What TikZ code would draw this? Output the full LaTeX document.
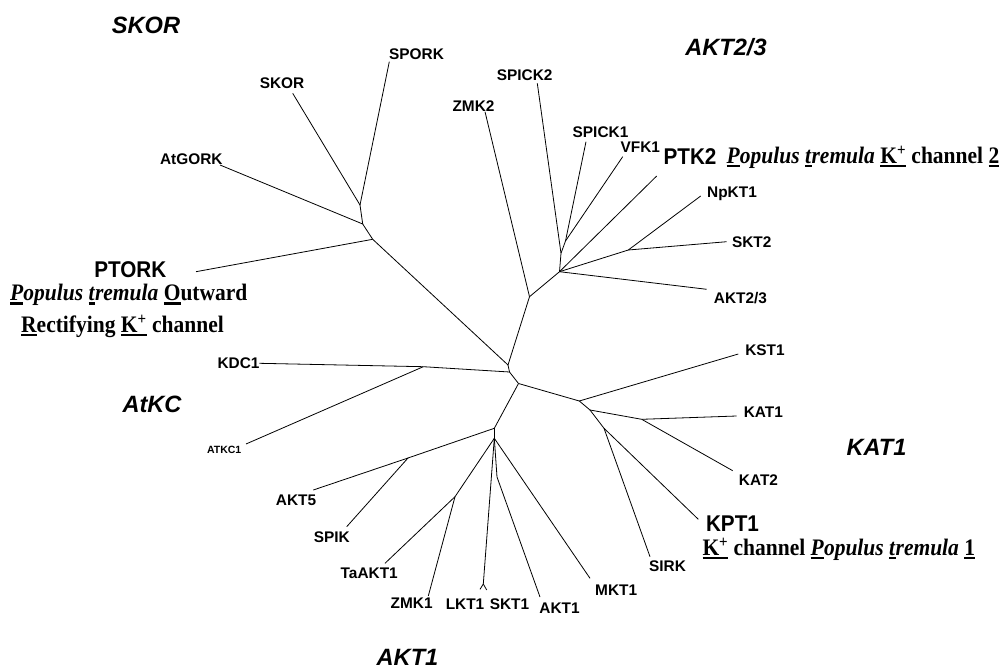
\documentclass[tikz,border=0pt]{standalone}
\usepackage{fontspec}
\setmainfont{Liberation Serif}
\newfontfamily\arialf{Liberation Sans}
\newcommand\ulx[1]{\setbox0\hbox{#1}\rlap{\rule[-3.6pt]{\wd0}{2.2pt}}\box0\relax}
\newcommand\vst[1]{\scalebox{1}[1.1]{#1}}
\tikzset{
 br/.style={line width=0.8pt, line join=round},
 lab/.style={font=\arialf\bfseries\fontsize{15.4}{18}\selectfont, inner sep=0pt, anchor=base},
 biglab/.style={font=\arialf\bfseries\fontsize{20.7}{24}\selectfont, inner sep=0pt, anchor=base},
 grp/.style={font=\arialf\bfseries\itshape\fontsize{23.6}{28}\selectfont, inner sep=0pt, anchor=base},
 desc/.style={font=\bfseries\fontsize{21.5}{26}\selectfont, inner sep=0pt, anchor=base},
 smalllab/.style={font=\arialf\bfseries\fontsize{10.5}{12}\selectfont, inner sep=0pt, anchor=base},
}
\begin{document}
\begin{tikzpicture}[x=1pt,y=-1pt]
\fill[white] (0,0) rectangle (999,669);
\useasboundingbox (0,0) rectangle (999,669);
% internal nodes
\coordinate (R1) at (508,365);
\coordinate (R2) at (509.5,372);
\coordinate (R3) at (518.5,383.5);
\coordinate (SK1) at (372.7,239.3);
\coordinate (SK2) at (362.7,224);
\coordinate (SK3) at (360,205);
\coordinate (A1) at (529.5,296.7);
\coordinate (A2) at (559.5,271.7);
\coordinate (A3) at (561,253.3);
\coordinate (A4) at (565.5,241);
\coordinate (A5) at (628.3,250);
\coordinate (C1) at (423.3,366.7);
\coordinate (K1) at (579.3,401);
\coordinate (K2) at (590,410);
\coordinate (K3) at (604,428.3);
\coordinate (K4) at (641.7,419.3);
\coordinate (N1) at (494.3,428.3);
\coordinate (N2) at (494.3,438.3);
\coordinate (N3) at (408,458);
\coordinate (N4) at (455,496.7);
\coordinate (N5) at (483.3,584);
\coordinate (N6) at (497,477);
% tips
\coordinate (tPTORK) at (196,271.7);
\coordinate (tAtGORK) at (220,165);
\coordinate (tSKOR) at (292.7,93.3);
\coordinate (tSPORK) at (389.3,61.7);
\coordinate (tZMK2) at (485,111.7);
\coordinate (tSPICK2) at (537.3,83.3);
\coordinate (tSPICK1) at (586,141.7);
\coordinate (tVFK1) at (622.7,156.7);
\coordinate (tPTK2) at (656.7,176);
\coordinate (tNpKT1) at (700.7,196);
\coordinate (tSKT2) at (726.7,241.7);
\coordinate (tAKT23) at (706.7,289.3);
\coordinate (tKDC1) at (259.3,363.3);
\coordinate (tATKC1) at (246,444);
\coordinate (tKST1) at (738.3,354);
\coordinate (tKAT1) at (736.7,416);
\coordinate (tKAT2) at (732.7,470.7);
\coordinate (tKPT1) at (698.3,519.3);
\coordinate (tSIRK) at (650,556.7);
\coordinate (tAKT5) at (313.3,490);
\coordinate (tSPIK) at (346.7,526.7);
\coordinate (tTaAKT1) at (385,563.3);
\coordinate (tZMK1) at (428.3,596);
\coordinate (tLKT1) at (480,589.3);
\coordinate (tSKT1) at (486.7,590);
\coordinate (tAKT1) at (540,597);
\coordinate (tMKT1) at (590,578.3);
% branches
\draw[br] (R1) -- (R2);
\draw[br] (R2) -- (R3);
\draw[br] (R1) -- (SK1);
\draw[br] (R1) -- (A1);
\draw[br] (R2) -- (C1);
\draw[br] (R3) -- (K1);
\draw[br] (R3) -- (N1);
\draw[br] (SK1) -- (SK2);
\draw[br] (SK2) -- (SK3);
\draw[br] (SK1) -- (tPTORK);
\draw[br] (SK2) -- (tAtGORK);
\draw[br] (SK3) -- (tSKOR);
\draw[br] (SK3) -- (tSPORK);
\draw[br] (A1) -- (A2);
\draw[br] (A1) -- (tZMK2);
\draw[br] (A2) -- (A3);
\draw[br] (A3) -- (A4);
\draw[br] (A3) -- (tSPICK2);
\draw[br] (A4) -- (tSPICK1);
\draw[br] (A4) -- (tVFK1);
\draw[br] (A2) -- (tPTK2);
\draw[br] (A2) -- (A5);
\draw[br] (A5) -- (tNpKT1);
\draw[br] (A5) -- (tSKT2);
\draw[br] (A2) -- (tAKT23);
\draw[br] (C1) -- (tKDC1);
\draw[br] (C1) -- (tATKC1);
\draw[br] (K1) -- (tKST1);
\draw[br] (K1) -- (K2);
\draw[br] (K2) -- (K4);
\draw[br] (K4) -- (tKAT1);
\draw[br] (K4) -- (tKAT2);
\draw[br] (K2) -- (K3);
\draw[br] (K3) -- (tKPT1);
\draw[br] (K3) -- (tSIRK);
\draw[br] (N1) -- (N3);
\draw[br] (N3) -- (tAKT5);
\draw[br] (N3) -- (tSPIK);
\draw[br] (N1) -- (N2);
\draw[br] (N2) -- (N4);
\draw[br] (N4) -- (tTaAKT1);
\draw[br] (N4) -- (tZMK1);
\draw[br] (N2) -- (N5);
\draw[br] (N5) -- (tLKT1);
\draw[br] (N5) -- (tSKT1);
\draw[br] (N2) -- (N6) -- (tAKT1);
\draw[br] (N2) -- (tMKT1);
% group titles
\node[grp] (gSKOR) at (146,33.5) {SKOR};
\node[grp] (gAKT23) at (726,55.5) {AKT2/3};
\node[grp] (gAtKC) at (152,412.5) {AtKC};
\node[grp] (gKAT1) at (876.5,455.8) {KAT1};
\node[grp] (gAKT1) at (407.5,665) {AKT1};
% leaf labels
\node[lab] (lSPORK) at (416.5,59.5) {SPORK};
\node[lab] (lSKOR) at (282,88.8) {SKOR};
\node[lab] (lZMK2) at (473.5,111.5) {ZMK2};
\node[lab] (lAtGORK) at (191.3,164.5) {AtGORK};
\node[lab] (lSPICK2) at (524.7,80.5) {SPICK2};
\node[lab] (lSPICK1) at (600.5,137.2) {SPICK1};
\node[lab] (lVFK1) at (640.3,152.2) {VFK1};
\node[lab] (lNpKT1) at (732,197.2) {NpKT1};
\node[lab] (lSKT2) at (751.7,247.2) {SKT2};
\node[lab] (lAKT23) at (740.5,303.8) {AKT2/3};
\node[lab] (lKDC1) at (238.5,368.8) {KDC1};
\node[smalllab] (lATKC1) at (224.2,453.8) {ATKC1};
\node[lab] (lKST1) at (765,355.5) {KST1};
\node[lab] (lKAT1) at (763.3,417.2) {KAT1};
\node[lab] (lKAT2) at (758.5,485.5) {KAT2};
\node[lab] (lSIRK) at (667.5,571.2) {SIRK};
\node[lab] (lMKT1) at (616.2,595.5) {MKT1};
\node[lab] (lAKT1) at (559.5,613.2) {AKT1};
\node[lab] (lSKT1) at (509.5,609.5) {SKT1};
\node[lab] (lLKT1) at (465,609.5) {LKT1};
\node[lab] (lZMK1) at (411.7,608.8) {ZMK1};
\node[lab] (lTaAKT1) at (369.2,578.8) {TaAKT1};
\node[lab] (lSPIK) at (331.8,542.2) {SPIK};
\node[lab] (lAKT5) at (296,505.5) {AKT5};
% poplar genes
\node[biglab] (lPTORK) at (130.3,277.5) {\vst{PTORK}};
\node[biglab] (lPTK2) at (690,164.1) {\vst{PTK2}};
\node[biglab] (lKPT1) at (732.5,531.2) {\vst{KPT1}};
\node[desc] (dPTORKa) at (128.8,300.8) {\vst{\ulx{\textit{P}}\textit{opulus} \ulx{\textit{t}}\textit{remula} \ulx{O}utward}};
\node[desc] (dPTORKb) at (122.5,332.5) {\vst{\ulx{R}ectifying \ulx{K\textsuperscript{+}} channel}};
\node[desc] (dPTK2) at (863,163.5) {\vst{\ulx{\textit{P}}\textit{opulus} \ulx{\textit{t}}\textit{remula} \ulx{K\textsuperscript{+}} channel \ulx{2}}};
\node[desc] (dKPT1) at (838.8,555.5) {\vst{\ulx{K\textsuperscript{+}} channel \ulx{\textit{P}}\textit{opulus} \ulx{\textit{t}}\textit{remula} \ulx{1}}};
\end{tikzpicture}
\end{document}
